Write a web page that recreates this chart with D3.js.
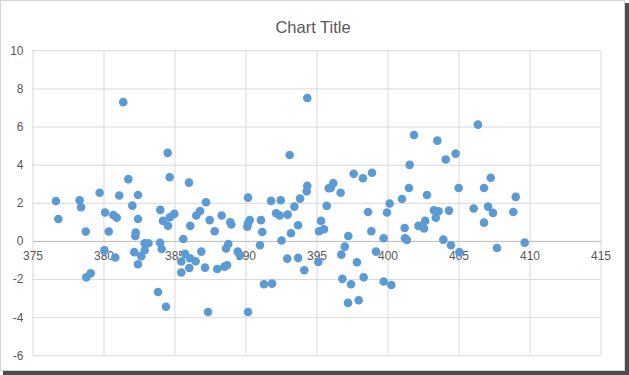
<!DOCTYPE html>
<html>
<head>
<meta charset="utf-8">
<script src="https://cdn.jsdelivr.net/npm/d3@7"></script>
<style>
html,body{margin:0;padding:0;background:#fff;}
svg{display:block;}
</style>
</head>
<body>
<svg id="chart" width="629" height="375"></svg>
<script>
const title = "Chart Title";
const xTicks = [375,380,385,390,395,400,405,410,415];
const yTicks = [-6,-4,-2,0,2,4,6,8,10];
const xs = [376.65,378.32,379.73,381.11,382.43,381.39,384.52,384.66,381.75,378.42,376.82,382.03,380.11,380.69,380.93,382.43,384.0,384.99,384.68,384.19,384.54,378.75,380.37,382.27,382.24,382.9,383.16,383.98,384.1,380.06,382.9,382.17,382.66,380.83,382.43,379.1,378.79,383.84,384.4,386.02,394.35,393.11,394.35,394.31,395.86,390.18,391.8,392.48,393.84,387.22,395.72,386.53,386.8,388.32,387.48,388.93,389.0,390.3,390.18,390.13,391.09,391.18,392.15,392.41,392.97,393.44,393.7,393.2,392.54,395.32,395.18,395.53,386.11,387.83,385.62,388.79,388.63,386.89,385.74,386.09,386.49,385.48,389.45,389.61,391.02,387.15,386.04,388.01,388.51,388.7,385.48,392.94,393.7,394.14,395.13,391.3,391.87,387.36,390.18,401.87,403.51,406.37,404.1,404.8,401.56,397.62,398.27,398.91,396.18,396.0,396.7,401.51,405.01,402.78,401.02,400.15,398.63,399.96,403.27,403.6,403.4,404.33,406.07,402.65,402.18,402.57,401.21,401.23,401.37,397.24,398.86,399.73,403.93,404.47,405.06,396.99,396.75,399.19,397.85,396.82,397.43,398.32,399.73,400.27,397.22,397.97,407.27,406.8,409.03,407.08,407.43,408.86,406.8,409.66,407.71];
const ys = [2.09,2.13,2.53,2.38,2.41,7.28,4.62,3.34,3.24,1.77,1.15,1.85,1.49,1.36,1.22,1.15,1.63,1.42,1.24,1.05,0.80,0.49,0.49,0.44,0.26,-0.12,-0.12,-0.10,-0.42,-0.49,-0.49,-0.59,-0.80,-0.87,-1.22,-1.70,-1.91,-2.68,-3.45,3.06,7.50,4.51,2.89,2.61,2.76,2.27,2.10,2.13,2.22,2.03,1.84,1.33,1.57,1.33,1.09,0.98,0.86,1.10,0.93,0.75,1.09,0.47,1.45,1.33,1.38,1.80,0.82,0.40,0.02,1.05,0.51,0.61,0.79,0.51,0.10,-0.16,-0.40,-0.56,-0.68,-0.91,-1.07,-1.08,-0.56,-0.75,-0.23,-1.40,-1.42,-1.47,-1.35,-1.28,-1.66,-0.93,-0.89,-1.54,-1.10,-2.27,-2.24,-3.73,-3.73,5.56,5.26,6.10,4.27,4.58,3.99,3.52,3.29,3.58,3.03,2.78,2.53,2.78,2.78,2.41,2.20,1.96,1.52,1.49,1.61,1.56,1.22,1.59,1.70,1.05,0.79,0.65,0.68,0.14,0.05,0.26,0.51,0.14,0.07,-0.23,-0.59,-0.30,-0.72,-0.56,-1.12,-1.99,-2.27,-1.91,-2.13,-2.31,-3.25,-3.11,3.31,2.78,2.31,1.80,1.47,1.52,0.96,-0.09,-0.37];

const svg = d3.select("#chart");
const font = "'Liberation Sans', Arial, sans-serif";
const fmt = d => String(d);

// frame + shadow
svg.append("rect").attr("x",3).attr("y",3).attr("width",626).attr("height",372).attr("fill","#4d4d4d");
svg.append("rect").attr("x",0.5).attr("y",0.5).attr("width",624).attr("height",370)
  .attr("fill","#fff").attr("stroke","#d4d4d4");

const x = d3.scaleLinear().domain([375,415]).range([32.5,600.5]);
const y = d3.scaleLinear().domain([-6,10]).range([355.3,50.3]);

// gridlines
svg.append("g").attr("class","ygrid")
  .attr("transform","translate(32.5,0)")
  .call(d3.axisLeft(y).tickValues(yTicks).tickSize(-(600.5-32.5)).tickFormat(""))
  .call(g=>g.select(".domain").remove())
  .call(g=>g.selectAll("line").attr("stroke","#d9d9d9").attr("stroke-width",1));
svg.append("g").attr("class","xgrid")
  .attr("transform","translate(0,50.3)")
  .call(d3.axisBottom(x).tickValues(xTicks).tickSize(355.3-50.3).tickFormat(""))
  .call(g=>g.select(".domain").remove())
  .call(g=>g.selectAll("line").attr("stroke","#d9d9d9").attr("stroke-width",1));

// x axis at y=0
const xAxis = svg.append("g").attr("transform",`translate(0,${y(0)})`)
  .call(d3.axisBottom(x).tickValues(xTicks).tickSize(0).tickPadding(11).tickFormat(fmt));
xAxis.select(".domain").attr("stroke","#bfbfbf").attr("stroke-width",1);
xAxis.selectAll("text").attr("font-family",font).attr("font-size","12px").attr("fill","#595959");

// y axis labels
const yAxis = svg.append("g").attr("transform","translate(32.5,0)")
  .call(d3.axisLeft(y).tickValues(yTicks).tickSize(0).tickPadding(9).tickFormat(fmt));
yAxis.select(".domain").remove();
yAxis.selectAll("text").attr("font-family",font).attr("font-size","12px").attr("fill","#595959");

// points
const pts = xs.map((v,i)=>({x:v,y:ys[i]}));
svg.append("g").selectAll("circle").data(pts).join("circle")
  .attr("cx",d=>x(d.x)).attr("cy",d=>y(d.y)).attr("r",4.3)
  .attr("fill","#5b9bd5");

// title
svg.append("text").attr("x",313).attr("y",33).attr("text-anchor","middle")
  .attr("font-family",font).attr("font-size","16.5px").attr("fill","#595959").text(title);
</script>
</body>
</html>
